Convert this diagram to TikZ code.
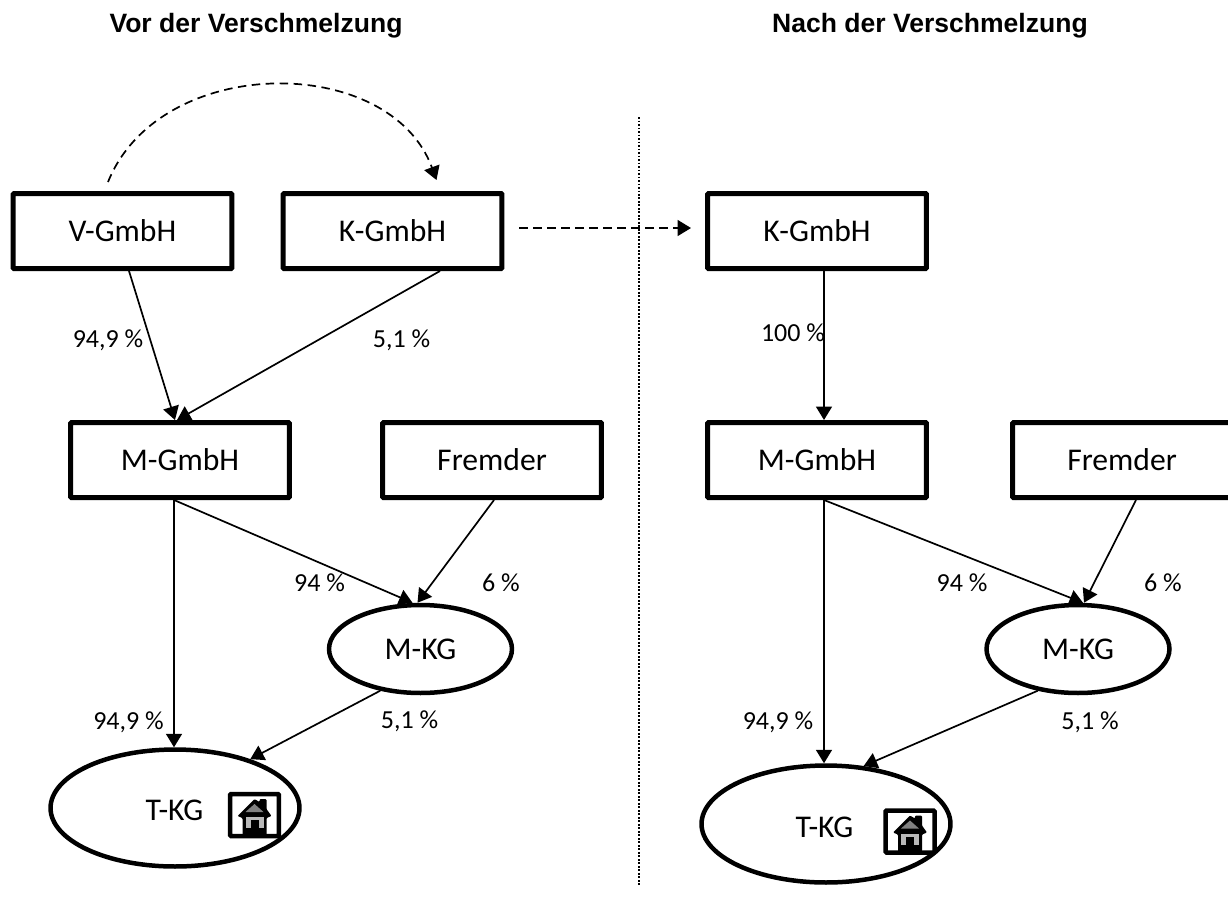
\documentclass[tikz,border=0pt]{standalone}
\usepackage{fontspec}
\setmainfont{Carlito}
\newfontfamily\headfont{Liberation Sans}
\usetikzlibrary{calc, positioning, shapes.geometric, arrows.meta}
\tikzstyle{firm}=[rectangle,draw,line width=0.1cm,rounded corners=0.02cm,minimum width=4.38cm,minimum height=1.5cm,inner sep=0pt,font=\fontsize{18}{20}\selectfont]
\tikzstyle{kg}=[ellipse,draw,line width=0.09cm,inner sep=0pt,font=\fontsize{18}{20}\selectfont]
\tikzstyle{small kg}=[kg,minimum width=3.66cm,minimum height=1.76cm]
\tikzstyle{big kg}=[kg,minimum width=4.98cm,minimum height=2.34cm]
\tikzstyle{kg text}=[inner sep=0pt,font=\fontsize{18}{20}\selectfont]
\tikzstyle{share}=[-{Triangle[length=0.27cm,width=0.32cm]},line width=0.034cm]
\tikzstyle{merge}=[share,dash pattern=on 0.17cm off 0.11cm]
\tikzstyle{pct}=[inner sep=0pt,font=\fontsize{14.8}{16}\selectfont]
\tikzstyle{head}=[inner sep=0pt,font=\headfont\bfseries\fontsize{15.1}{18}\selectfont]
\tikzstyle{frame}=[rectangle,draw,line width=0.09cm,rounded corners=0.02cm,minimum width=0.98cm,minimum height=0.84cm,inner sep=0pt]

\begin{document}
\begin{tikzpicture}[x=0.02cm, y=-0.02cm]
	\useasboundingbox (0,0) rectangle (1228,914);

	% Headings
	\node[head] (head-l) at (256,26) {Vor der Verschmelzung};
	\node[head] (head-r) at (930,26) {Nach der Verschmelzung};

	% Divider
	\coordinate (div-top) at (639,117);
	\coordinate (div-bot) at (639,885);
	\draw[line width=0.025cm,dash pattern=on 0.035cm off 0.035cm] (div-top) -- (div-bot);

	% Draw the boxes
	\foreach \name / \x / \y / \txt in {L-V/122.5/231/V-GmbH, L-K/392.5/231/K-GmbH, R-K/817/231/K-GmbH,
		L-M/180/460/M-GmbH, L-F/492/460/Fremder, R-M/817/460/M-GmbH, R-F/1122/460/Fremder}
	\node[firm] (\name) at (\x,\y) {\txt};

	% Draw the ellipses
	\node[small kg] (L-MKG) at (420.5,649) {M-KG};
	\node[small kg] (R-MKG) at (1078,649) {M-KG};
	\node[big kg] (L-T) at (175,808) {};
	\node[big kg] (R-T) at (826,824) {};
	\node[kg text] (L-T-txt) at (174.5,810) {T-KG};
	\node[kg text] (R-T-txt) at (824.5,827) {T-KG};

	% Draw the house symbols
	\foreach \name / \x / \y in {L/254.5/815, R/910/831.5}
	{
	\node[frame] (\name-H) at (\x,\y) {};
	\begin{scope}[shift={(\x,\y)}]
		\fill[rounded corners=0.02cm] (-17,1) -- (0,-16) -- (5,-13) -- (5,-16) -- (12,-16) -- (12,-6) -- (17,1) -- (12,3) -- (12,20) -- (-12,20) -- (-12,3) -- cycle;
		\fill[gray] (0,-11) -- (9,-3) -- (-9,-3) -- cycle;
		\fill[gray!55] (-9,2) rectangle (9,13);
		\fill (-4,5) rectangle (4,20);
	\end{scope}
	}

	% Connect the nodes on the left side
	\draw[share] ($(L-V.south)+(6.5,0)$) -- ($(L-M.north)+(-5,0)$);
	\draw[share] ($(L-K.south)+(47.5,0)$) -- ($(L-M.north)+(-3,0)$);
	\draw[share] ($(L-M.south)+(-6,0)$) -- ($(L-T.north)+(-1,0)$);
	\draw[share] ($(L-M.south)+(-6,0)$) -- ($(L-MKG.north)+(-8,0)$);
	\draw[share] ($(L-F.south)+(2,0)$) -- ($(L-MKG.north)+(-3,0)$);
	\draw[share] (L-MKG.226) -- (L-T.33);

	% Connect the nodes on the right side
	\draw[share] ($(R-K.south)+(7,0)$) -- ($(R-M.north)+(7,0)$);
	\draw[share] ($(R-M.south)+(7,0)$) -- ($(R-T.north)+(-2,0)$);
	\draw[share] ($(R-M.south)+(7,0)$) -- ($(R-MKG.north)+(5,0)$);
	\draw[share] ($(R-F.south)+(14,0)$) -- ($(R-MKG.north)+(6,0)$);
	\draw[share] (R-MKG.226) -- (R-T.57);

	% Dashed arrows
	\draw[merge] ($(L-V.north)+(-14.5,-9)$) .. controls (160,53) and (390,53) .. ($(L-K.north)+(44,-11)$);
	\draw[merge] ($(L-K.east)+(15,-3)$) -- ($(R-K.west)+(-14,-3)$);

	% Annotate the shares
	\foreach \name / \x / \y / \txt in {a/108/340/{94,9 \%}, b/401.5/340/{5,1 \%}, c/319.5/583/{94 \%}, d/501/583/{6 \%},
		e/128.5/722/{94,9 \%}, f/409.5/721/{5,1 \%}, g/793/333/{100 \%}, h/962/583/{94 \%},
		i/1163/583/{6 \%}, j/778/722/{94,9 \%}, k/1090/722/{5,1 \%}}
	\node[pct] (pct-\name) at (\x,\y) {\txt};
\end{tikzpicture}
\end{document}
